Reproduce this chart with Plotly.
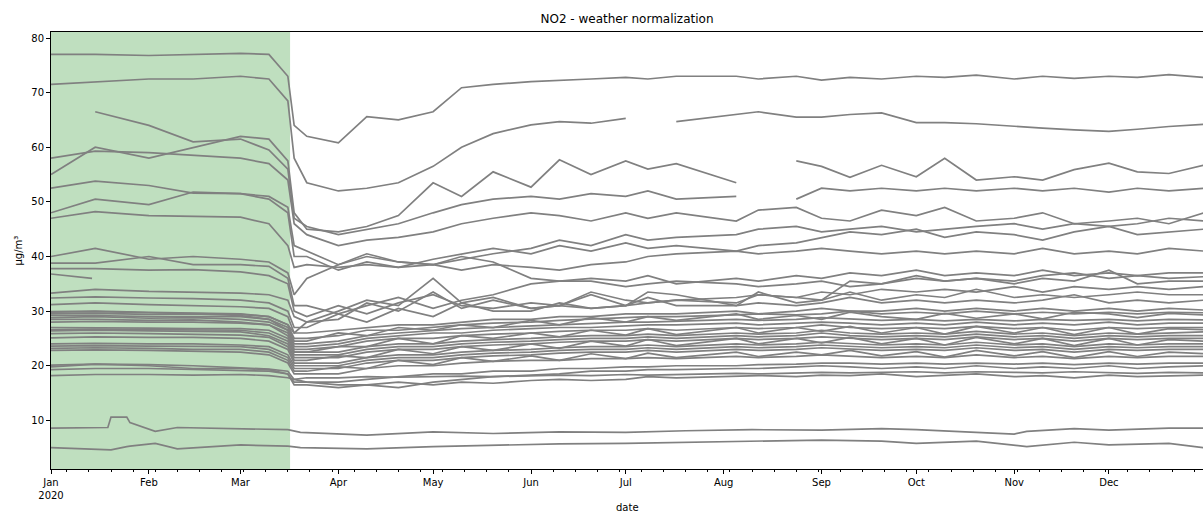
import plotly.graph_objects as go

# ---------------- data ----------------
dates = ["2020-01-01", "2020-01-15", "2020-02-01", "2020-02-15", "2020-03-01", "2020-03-10",
         "2020-03-16", "2020-03-18", "2020-03-22", "2020-04-01", "2020-04-10", "2020-04-20",
         "2020-05-01", "2020-05-10", "2020-05-20", "2020-06-01", "2020-06-10", "2020-06-20",
         "2020-07-01", "2020-07-08", "2020-07-17", "2020-08-05", "2020-08-12", "2020-08-24",
         "2020-09-01", "2020-09-10", "2020-09-20", "2020-10-01", "2020-10-10", "2020-10-20",
         "2020-11-01", "2020-11-10", "2020-11-20", "2020-12-01", "2020-12-10", "2020-12-20",
         "2020-12-31"]

s01 = [77, 77, 76.8, 77, 77.2, 77, 73, 64,
       62, 60.8, 65.6, 65, 66.5, 70.9, 71.5, 72, 72.3, 72.5, 72.8, 72.5, 73, 73, 72.5, 73, 72.3,
       72.8, 72.5, 73, 72.8, 73.2, 72.5, 73, 72.6, 73, 72.8, 73.3, 72.8]
s02 = [71.5, 72, 72.5, 72.5, 73, 72.5, 68.5, 58,
       53.5, 52, 52.5, 53.5, 56.5, 60, 62.5, 64.1, 64.7, 64.4, 65.3, None, 64.7, 66, 66.5, 65.5,
       65.5, 66, 66.3, 64.5, 64.5, 64.3, 63.8, 63.5, 63.2, 62.9, 63.3, 63.8, 64.2]
s03 = [None, 66.5, 64, 61, 61.5, 59.5, 56, 47,
       45.5, 44, 45, 46, 48, 49.5, 50.5, 51, 50.5, 51.5, 51, 52, 50.5, 51, None, 50.5, 52.5, 52,
       52.5, 52, 52.5, 52, 52.5, 52, 52.5, 51.8, 52.5, 52, 52.5]
s04 = [55, 60, 58, 60, 62, 61.5, 57.5, 48,
       45, 44.5, 45.5, 47.5, 53.5, 51, 55.5, 52.7, 57.7, 55, 57.5, 56, 57, 53.5, None, 57.5, 56.5,
       54.5, 56.7, 54.6, 58, 54, 54.6, 54, 55.9, 57.1, 55.5, 55.2, 56.7]
s05 = [58, 59.3, 59, 58.5, 58, 57, 54, 46,
       44, 42, 43, 43.5, 44.5, 46, 47, 48, 47.5, 46.5, 48, 47, 48, 46.5, 48.5, 49, 47, 46.5, 48.5,
       47.5, 49, 46.5, 47, 48, 46, 46.5, 47, 46, 48]
s06 = [52.5, 53.8, 53, 51.6, 51.5, 51, 49, 42,
       41, 38.5, 40, 39, 38.5, 39.5, 40.5, 41.5, 43, 42, 44, 43, 43.5, 44, 45, 45.5, 44.5, 45, 45.5,
       44.5, 45, 45.5, 46, 45, 46, 45.5, 46, 47, 46.5]
s07 = [48, 50.5, 49.5, 51.8, 51.5, 50.5, 48, 40,
       40, 37.5, 39, 38, 39.5, 40.5, 41.5, 40.5, 42, 41, 42.5, 41.5, 42, 41, 42, 42.5, 43.5, 44.5,
       44, 45, 43.5, 44.5, 44, 43, 44.5, 45.5, 44, 44.5, 45]
s08 = [47, 48.2, 47.5, 47.3, 47.2, 46, 42, 38,
       38.5, 38, 38.5, 38, 38.5, 37.5, 38.5, 38, 37.5, 38.5, 39, 40, 40.5, 41, 40.5, 41, 41.5, 41,
       40.5, 41, 40.5, 41, 40.5, 41.5, 40.5, 41, 40.5, 41.5, 41]
s09 = [40, 41.5, 39.5, 40, 39.5, 39, 37, 33,
       36, 38.5, 40.5, 39, 38.5, 40, 39, 36, 35.5, 36, 35.5, 36.5, 35, 36, 35.5, 36.5, 36, 37, 36.5,
       37.5, 36.5, 37, 36.5, 37.5, 36.5, 37, 36.5, 37, 37]
s10 = [38.8, 38.8, 40, 38.5, 38.5, 38.2, 36, 31,
       31, 29.5, 31, 32.5, 30.5, 32, 33, 35, 35.5, 35.5, 34.5, 35, 35.5, 35, 34.5, 35, 35.5, 34.5,
       35, 36, 35.5, 36, 35, 36, 35.5, 37.5, 35, 35.5, 35.5]
s11 = [37.8, 37.8, 37.5, 37.6, 37.2, 36.5, 35, 30,
       29, 31, 29.5, 31.5, 33, 31, 30.5, 31.5, 31, 33.5, 32, 31.5, 32, 32.5, 33, 32.5, 33.5, 33, 34,
       33.5, 34, 33.5, 34.5, 33.5, 34.5, 34, 34.5, 34, 34.5]
s12_dates = ["2020-01-01", "2020-01-14"]
s12 = [36.8, 36]
s13 = [33.3, 34, 33.6, 33.5, 33.3, 33, 32, 29,
       28, 28.5, 31.5, 30, 33.5, 30.5, 32, 30.5, 31, 33, 31, 31.5, 32, 31.5, 33, 32.5, 32, 33.5,
       32, 33, 32.5, 34, 32.5, 33, 32.5, 33, 33.5, 33, 33]
s14 = [32.4, 32.6, 32.4, 32.3, 32, 31.5, 30, 27,
       27, 29.5, 28, 30.5, 29, 31.5, 30, 30, 31.5, 30.5, 31, 32.5, 31, 31, 31.5, 31, 31.5, 32.5,
       31.5, 32, 31.5, 32, 31.5, 32, 33, 31.5, 32, 31.5, 32]
s15 = [31.2, 31.5, 31.2, 31, 30.8, 30.5, 29, 26,
       26, 26.5, 27, 27.5, 27.5, 28, 28.5, 28.5, 29, 29, 29.5, 29.5, 29.5, 30, 29.5, 30, 30.5, 30,
       30, 30.5, 30, 30.5, 30, 30.5, 30, 30.5, 30, 30.5, 30.2]
s16 = [29.9, 30, 29.8, 29.7, 29.5, 29, 27.5, 25,
       25, 25.5, 26.5, 26.5, 27, 27.5, 27.8, 28, 28.3, 28.5, 28.8, 29, 29, 29.3, 29.5, 29.3, 29.5,
       30, 29.5, 29.8, 29.5, 30, 29.5, 29.8, 29.5, 29.8, 29.5, 29.8, 29.7]
s17 = [29.5, 29.6, 29.4, 29.5, 29.2, 28.5, 27, 24.5,
       24.5, 26, 25.5, 27, 26.5, 27.5, 27, 28.3, 27.5, 28.8, 28, 29, 28.3, 29.5, 28.5, 29.2, 28.5,
       29.8, 29, 28.5, 29.6, 28.7, 29.5, 28.6, 29.8, 29.5, 28.8, 29.6, 29.3]
s18 = [29.2, 29.2, 29, 29, 29, 28.5, 26.5, 24,
       24, 24.5, 25.5, 26, 26.5, 26.8, 27, 27.3, 27.5, 27.8, 28, 28, 28.2, 28.5, 28.3, 28.5, 28.8,
       28.5, 28.3, 28.5, 28.2, 28.5, 28.2, 28.5, 28.3, 28.5, 28.2, 28.5, 28.4]
s19 = [28.8, 29, 28.7, 28.8, 28.5, 28, 26.5, 23.5,
       23.5, 24, 25, 25.5, 26, 26, 26.5, 26.8, 27, 27, 27.3, 27.5, 27.5, 27.8, 27.5, 27.8, 28, 27.8,
       27.5, 27.8, 27.5, 28, 27.5, 27.8, 27.5, 28, 27.5, 27.8, 27.8]
s20 = [28.5, 28.5, 28.3, 28.4, 28, 27.5, 26, 23,
       23, 23.5, 24.5, 25, 25, 25.5, 25.8, 26, 26.3, 26.5, 26.5, 26.8, 26.5, 27, 26.8, 27, 27.5, 27,
       26.8, 27, 26.8, 27.2, 26.8, 27, 26.5, 27, 26.8, 27, 27]
s21 = [28, 28.1, 28, 28, 27.8, 27.5, 25.5, 22.5,
       22.5, 23.5, 23.5, 25, 24, 25.5, 25, 26, 25.3, 26.5, 25.6, 26.8, 25.7, 27, 26, 27, 26.3, 27.2,
       26, 27, 25.8, 27.2, 26, 27, 25.7, 27, 25.8, 26.8, 26.6]
s22 = [27, 27, 26.9, 26.8, 26.8, 26.5, 25, 22.5,
       22.5, 22.5, 23.5, 24, 24, 24.5, 24.8, 25, 25.3, 25.5, 25.5, 25.8, 25.5, 26, 25.8, 26, 26.5,
       26, 25.8, 26, 25.8, 26.3, 25.8, 26, 25.5, 26, 25.8, 26, 26.2]
s23 = [26.6, 26.7, 26.6, 26.6, 26.5, 26, 24.5, 22,
       22, 22, 23, 23.5, 23.5, 24, 24.3, 24.5, 24.8, 25, 25, 25.3, 25, 25.5, 25.3, 25.5, 26, 25.5,
       25.3, 25.5, 25.3, 25.8, 25.3, 25.5, 25, 25.5, 25.3, 25.5, 25.5]
s24 = [26.4, 26.5, 26.4, 26.3, 26.2, 25.5, 24, 21.5,
       21.5, 21.5, 22.5, 23, 23, 23.5, 23.8, 24, 24.3, 24.5, 24.5, 24.8, 24.5, 25, 24.8, 25, 25.3,
       25, 24.8, 25, 24.8, 25.3, 24.8, 25, 24.5, 25, 24.8, 25, 25]
s25 = [25.9, 26, 25.9, 25.8, 25.6, 25.2, 23.5, 21,
       21, 21.8, 21.5, 23, 22.2, 23.5, 22.8, 24, 23.2, 24.5, 23.6, 24.8, 23.7, 25, 24, 25, 24.2,
       25.2, 24, 25, 23.8, 25.2, 24, 25, 23.7, 25, 23.8, 24.8, 24.5]
s26 = [25.1, 25.3, 25.2, 25.2, 25, 24.5, 23, 20.5,
       20.5, 20.5, 21.5, 22, 22, 22.5, 22.8, 23, 23.3, 23.5, 23.5, 23.8, 23.5, 24, 23.8, 24, 24.3,
       24, 23.8, 24, 23.8, 24.3, 23.8, 24, 23.5, 24, 23.8, 24, 24]
s27 = [24, 24.1, 24, 24, 23.8, 23.5, 22, 20,
       20, 20, 21, 21.5, 21.5, 22, 22.3, 22.5, 22.8, 23, 23, 23.3, 23, 23.5, 23.3, 23.5, 23.8, 23.5,
       23.3, 23.5, 23.3, 23.8, 23.3, 23.5, 23, 23.5, 23.3, 23.5, 23.5]
s28 = [23.6, 23.7, 23.6, 23.6, 23.5, 23, 21.5, 19.5,
       19.5, 19.5, 20.5, 21, 21, 21.5, 21.8, 22, 22.3, 22.5, 22.5, 22.8, 22.5, 23, 22.8, 23, 23.3,
       23, 22.8, 23, 22.8, 23.3, 22.8, 23, 22.5, 23, 22.8, 23, 23]
s29 = [23.2, 23.3, 23.2, 23, 23, 22.5, 21, 19,
       19, 19.8, 19.5, 21, 20.2, 21.5, 20.8, 21.8, 21, 22.2, 21.3, 22.3, 21.5, 22.5, 21.7, 22.5, 22,
       22.8, 21.8, 22.6, 21.6, 22.8, 21.8, 22.6, 21.5, 22.6, 21.7, 22.5, 22.2]
s30 = [22.8, 22.9, 22.8, 22.7, 22.5, 22, 20.5, 18.5,
       18.5, 18.5, 19.5, 20, 20, 20.5, 20.8, 21, 21, 21.3, 21.3, 21.5, 21.3, 21.7, 21.5, 21.7, 22,
       21.7, 21.5, 21.7, 21.5, 22, 21.5, 21.7, 21.3, 21.7, 21.5, 21.7, 21.7]
s31 = [19.8, 20.3, 20, 19.5, 19.5, 19.3, 18.5, 17,
       17, 17, 17.5, 18, 18.5, 18.5, 19, 19, 19.5, 19.5, 19.8, 19.8, 20, 20, 20.2, 20.3, 20.5, 20.5,
       20.3, 20.5, 20.3, 20.5, 20.3, 20.5, 20.2, 20.5, 20.3, 20.5, 20.5]
s32 = [19.3, 19.5, 19.5, 19.3, 19.2, 19, 18.5, 16.5,
       16.5, 16, 16.5, 16, 17, 17.5, 18, 18.3, 18.5, 19, 19, 19.3, 19.3, 19.5, 19.5, 19.8, 20, 19.8,
       19.5, 19.8, 19.5, 20, 19.5, 19.8, 19.5, 20, 19.5, 19.8, 20]
s33 = [18.2, 18.4, 18.4, 18.3, 18.4, 18.2, 17.8, 17.5,
       17.8, 17.8, 18, 17.9, 18, 18.1, 18, 18.2, 18.3, 18.2, 18.4, 18.3, 18.4, 18.6, 18.5, 18.6,
       18.8, 18.7, 18.8, 18.9, 18.7, 18.9, 18.8, 18.7, 18.9, 18.8, 18.6, 18.8, 18.7]
s34 = [20.1, 20.3, 20.2, 20, 19.6, 19.4, 19, 17.5,
       17, 16.5, 16.5, 17, 16.5, 17, 16.8, 17.3, 17.5, 17.3, 17.5, 18, 17.8, 18, 18.2, 18, 18.3,
       18.2, 18.5, 18, 18.3, 18.5, 18, 18.2, 17.8, 18.3, 18, 18.2, 18.3]
s35 = [29.8, 29.9, 29.7, 29.6, 29.4, 29, 27.5, 26,
       28, 30, 32, 31, 36, 31.5, 32.5, 30.5, 31, 30.5, 31, 33.5, 33, 31, 33.5, 31.5, 32, 35.5, 35,
       36.5, 35.5, 36, 35.5, 36.5, 37, 36, 36.5, 36, 36.3]

low_dates = ["2020-01-01", "2020-01-19", "2020-01-20", "2020-01-25", "2020-01-26", "2020-02-03",
             "2020-02-10", "2020-03-01", "2020-03-16", "2020-03-20", "2020-04-10", "2020-05-01",
             "2020-05-20", "2020-06-10", "2020-07-01", "2020-07-20", "2020-08-10", "2020-09-01",
             "2020-09-20", "2020-10-01", "2020-10-20", "2020-11-01", "2020-11-05", "2020-11-20",
             "2020-12-01", "2020-12-20", "2020-12-31"]
low1 = [8.6, 8.7, 10.6, 10.6, 9.6, 8.0, 8.7, 8.5, 8.3, 7.8, 7.3, 7.9, 7.6, 7.9, 7.8, 8.1, 8.3,
        8.2, 8.5, 8.3, 7.8, 7.5, 8.0, 8.5, 8.2, 8.6, 8.6]
low2 = [5.0, 4.6, 4.6, 5.2, 5.3, 5.8, 4.8, 5.5, 5.3, 5.0, 4.8, 5.2, 5.5, 5.7, 5.8, 6.0, 6.3, 6.4,
        6.2, 5.8, 6.2, 5.5, 5.2, 6.0, 5.5, 5.8, 5.0]

month_ticks = ["2020-01-01", "2020-02-01", "2020-03-01", "2020-04-01", "2020-05-01", "2020-06-01",
               "2020-07-01", "2020-08-01", "2020-09-01", "2020-10-01", "2020-11-01", "2020-12-01"]
month_labels = ["Jan<br>2020", "Feb", "Mar", "Apr", "May", "Jun", "Jul", "Aug", "Sep", "Oct",
                "Nov", "Dec"]
y_ticks = [10, 20, 30, 40, 50, 60, 70, 80]

lockdown_start = "2020-01-01"
lockdown_end = "2020-03-16 17:00"

# ---------------- figure ----------------
series = [(dates, s) for s in [s01, s02, s03, s04, s05, s06, s07, s08, s09, s10, s11]]
series.append((s12_dates, s12))
series += [(dates, s) for s in [s13, s14, s15, s16, s17, s18, s19, s20, s21, s22, s23, s24,
                                 s25, s26, s27, s28, s29, s30, s31, s32, s33, s34, s35]]
series += [(low_dates, low1), (low_dates, low2)]

fig = go.Figure()
for xs, ys in series:
    assert len(xs) == len(ys)
    fig.add_trace(go.Scatter(x=xs, y=ys, mode="lines", connectgaps=False,
                             line=dict(color="#808080", width=1.7), hoverinfo="skip",
                             showlegend=False))

fig.add_shape(type="rect", xref="x", yref="paper", x0=lockdown_start, x1=lockdown_end,
              y0=0, y1=1, fillcolor="rgb(191,223,191)", line=dict(width=0), layer="below")

font_family = "DejaVu Sans"
fig.update_layout(
    width=1203, height=515,
    margin=dict(l=51, r=0, t=32, b=46, autoexpand=False),
    paper_bgcolor="white", plot_bgcolor="white",
    font=dict(family=font_family, size=10, color="#000"),
    title=dict(text="NO2 - weather normalization", x=0.5, xref="paper", xanchor="center",
               y=1 - 19 / 515, yref="container", yanchor="middle",
               font=dict(family=font_family, size=12, color="#000")),
    showlegend=False,
)
fig.update_xaxes(
    type="date", range=["2020-01-01", "2020-12-30 19:00"],
    tickvals=month_ticks, ticktext=month_labels, ticks="outside", ticklen=4,
    tickcolor="#000", tickwidth=1, showgrid=False, zeroline=False,
    showline=True, linecolor="#000", linewidth=1, mirror=True,
    tickfont=dict(family=font_family, size=10, color="#000"),
    minor=dict(ticks="outside", ticklen=2, tickcolor="#000", dtick=7 * 86400000,
               tick0="2020-01-06", showgrid=False),
)
fig.update_yaxes(
    range=[1.1, 81.1], tickvals=y_ticks, ticks="outside", ticklen=4, tickcolor="#000",
    tickwidth=1, showgrid=False, zeroline=False, showline=True, linecolor="#000",
    linewidth=1, tickfont=dict(family=font_family, size=10, color="#000"),
)
fig.add_annotation(text="date", xref="paper", yref="paper", x=0.5, y=-(507 - 469) / 437,
                   xanchor="center", yanchor="middle", showarrow=False,
                   font=dict(family=font_family, size=10, color="#000"))
fig.add_annotation(text="µg/m³", xref="paper", yref="paper", x=(18 - 51) / 1152, y=0.5,
                   xanchor="center", yanchor="middle", textangle=-90, showarrow=False,
                   font=dict(family=font_family, size=10, color="#000"))

fig.write_html("out.html")
